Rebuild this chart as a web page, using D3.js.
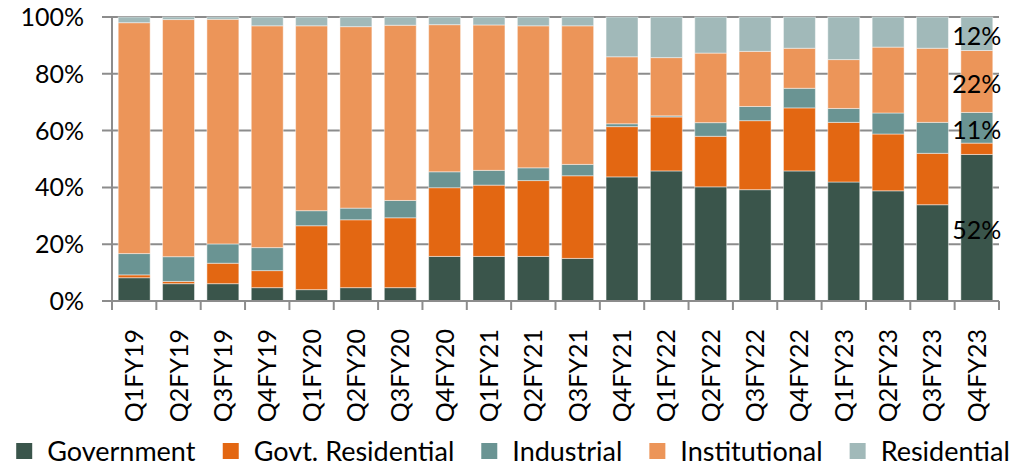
<!DOCTYPE html>
<html lang="en">
<head>
<meta charset="UTF-8" />
<title>Share by segment</title>
<script src="https://d3js.org/d3.v7.min.js"></script>
<style>
  body { margin: 0; background: #fff; }
  text { font-family: Lato, "Open Sans", sans-serif; fill: #000; }
</style>
</head>
<body>
<svg width="1036" height="466"></svg>
<script>
const width = 1036;
const height = 466;

// quarters on the x axis
const quarters = [
  "Q1FY19", "Q2FY19", "Q3FY19", "Q4FY19",
  "Q1FY20", "Q2FY20", "Q3FY20", "Q4FY20",
  "Q1FY21", "Q2FY21", "Q3FY21", "Q4FY21",
  "Q1FY22", "Q2FY22", "Q3FY22", "Q4FY22",
  "Q1FY23", "Q2FY23", "Q3FY23", "Q4FY23"
];

// share of each segment, in %
const government = [8.2, 6.1, 6.1, 4.7, 4.0, 4.7, 4.7, 15.7, 15.7, 15.7, 15.0, 43.7, 45.8, 40.2, 39.2, 45.8, 41.9, 38.8, 33.9, 51.6];
const govtResidential = [1.0, 0.8, 7.2, 6.0, 22.5, 23.9, 24.6, 24.2, 25.1, 26.7, 29.1, 17.7, 19.0, 17.8, 24.3, 22.2, 21.0, 20.0, 18.1, 4.0];
const industrial = [7.5, 8.7, 6.8, 8.1, 5.3, 4.1, 6.1, 5.6, 5.2, 4.5, 4.0, 1.0, 0.4, 4.8, 5.0, 6.9, 4.9, 7.4, 10.9, 10.8];
const institutional = [81.3, 83.5, 79.1, 78.1, 65.1, 63.9, 61.7, 51.8, 51.2, 50.0, 48.8, 23.6, 20.5, 24.5, 19.4, 14.1, 17.2, 23.2, 26.1, 21.8];
const residential = [2.0, 0.9, 0.8, 3.1, 3.1, 3.4, 2.9, 2.7, 2.8, 3.1, 3.1, 14.0, 14.3, 12.7, 12.1, 11.0, 15.0, 10.6, 11.0, 11.8];

const seriesNames = ["Government", "Govt. Residential", "Industrial", "Institutional", "Residential"];
const seriesColors = ["#3a554b", "#e36712", "#6a9493", "#ec9559", "#a1b9b9"];
// segments of the last bar that carry a value label
const labelledSeries = ["Government", "Industrial", "Institutional", "Residential"];

const yTicks = [0, 0.2, 0.4, 0.6, 0.8, 1];

const values = [government, govtResidential, industrial, institutional, residential];
const rows = quarters.map((q, i) => {
  const r = { quarter: q };
  seriesNames.forEach((s, j) => (r[s] = values[j][i]));
  return r;
});

const margin = { top: 17, right: 37, bottom: 165, left: 112 };
const plotBottom = height - margin.bottom; // 301

const x = d3.scaleBand()
  .domain(quarters)
  .range([margin.left, width - margin.right])
  .paddingInner(0.28)
  .paddingOuter(0.14);

const y = d3.scaleLinear().domain([0, 1]).range([plotBottom, margin.top]);

const color = d3.scaleOrdinal().domain(seriesNames).range(seriesColors);

const stacked = d3.stack()
  .keys(seriesNames)
  .offset(d3.stackOffsetExpand)(rows);

const svg = d3.select("svg");
const axisColor = "#8c8c8c";

// gridlines with small left ticks
svg.append("g")
  .selectAll("line")
  .data(yTicks)
  .join("line")
  .attr("x1", margin.left - 10)
  .attr("x2", width - margin.right)
  .attr("y1", d => y(d))
  .attr("y2", d => y(d))
  .attr("stroke", axisColor)
  .attr("stroke-width", 2);

// y axis line
svg.append("line")
  .attr("x1", margin.left).attr("x2", margin.left)
  .attr("y1", y(1)).attr("y2", y(0))
  .attr("stroke", axisColor)
  .attr("stroke-width", 2);

// y labels
svg.append("g")
  .selectAll("text")
  .data(yTicks)
  .join("text")
  .attr("x", 84)
  .attr("y", d => y(d))
  .attr("dy", "0.36em")
  .attr("text-anchor", "end")
  .style("font-size", "25px")
  .text(d3.format(".0%"));

// bars
svg.append("g")
  .selectAll("g")
  .data(stacked)
  .join("g")
  .attr("fill", d => color(d.key))
  .selectAll("rect")
  .data(d => d)
  .join("rect")
  .attr("x", d => x(d.data.quarter))
  .attr("width", x.bandwidth())
  .attr("y", d => y(d[1]))
  .attr("height", d => y(d[0]) - y(d[1]))
  .attr("stroke", "#fff")
  .attr("stroke-opacity", 0.45)
  .attr("stroke-width", 1);

// x axis line and ticks between categories
const bounds = d3.range(quarters.length + 1).map(i => margin.left + i * (width - margin.right - margin.left) / quarters.length);
svg.append("line")
  .attr("x1", margin.left).attr("x2", width - margin.right)
  .attr("y1", plotBottom).attr("y2", plotBottom)
  .attr("stroke", axisColor)
  .attr("stroke-width", 2);
svg.append("g")
  .selectAll("line")
  .data(bounds)
  .join("line")
  .attr("x1", d => d).attr("x2", d => d)
  .attr("y1", plotBottom).attr("y2", plotBottom + 9)
  .attr("stroke", axisColor)
  .attr("stroke-width", 2);

// rotated quarter labels
svg.append("g")
  .selectAll("text")
  .data(quarters)
  .join("text")
  .attr("transform", d => `translate(${x(d) + x.bandwidth() / 2},${plotBottom + 28}) rotate(-90)`)
  .attr("dy", "0.36em")
  .attr("text-anchor", "end")
  .style("font-size", "25px")
  .text(d => d);

// value labels on the last bar
const lastIndex = quarters.length - 1;
svg.append("g")
  .selectAll("text")
  .data(stacked.filter(s => labelledSeries.includes(s.key)))
  .join("text")
  .attr("x", x(quarters[lastIndex]) + x.bandwidth() / 2)
  .attr("y", s => y((s[lastIndex][0] + s[lastIndex][1]) / 2))
  .attr("dy", "0.45em")
  .attr("text-anchor", "middle")
  .style("font-size", "25px")
  .text(s => d3.format(".0%")(s[lastIndex][1] - s[lastIndex][0]));

// legend
const legend = svg.append("g");
const items = legend.selectAll("g")
  .data(seriesNames)
  .join("g");
items.append("rect")
  .attr("width", 16).attr("height", 16)
  .attr("y", -8)
  .attr("fill", d => color(d));
items.append("text")
  .attr("x", 31)
  .attr("dy", "0.36em")
  .style("font-size", "27px")
  .text(d => d);
let cursor = 0;
items.each(function () {
  const w = this.getBBox().width;
  d3.select(this).attr("transform", `translate(${cursor},0)`);
  cursor += w + 27;
});
const legendWidth = cursor - 27;
legend.attr("transform", `translate(${513 - legendWidth / 2},451)`);
</script>
</body>
</html>
